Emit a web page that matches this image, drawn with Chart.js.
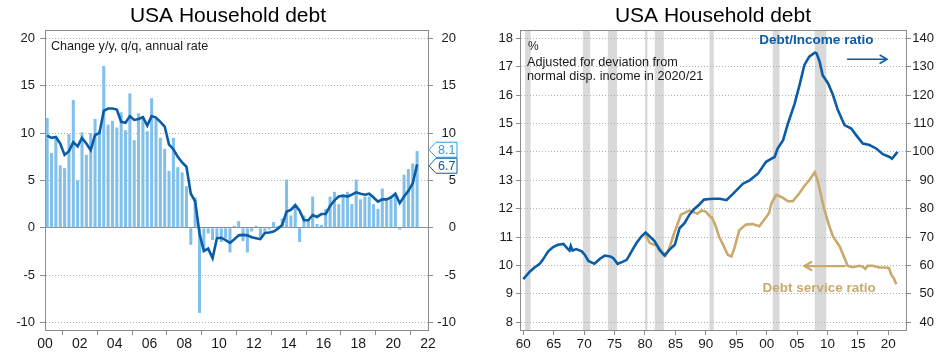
<!DOCTYPE html>
<html><head><meta charset="utf-8">
<script src="https://cdn.jsdelivr.net/npm/chart.js@4.4.1/dist/chart.umd.min.js"></script>
<style>
html,body{margin:0;padding:0;background:#fff;}
#wrap{position:relative;width:947px;height:356px;overflow:hidden;}
#c1{position:absolute;left:0;top:0;}
#c2{position:absolute;left:473px;top:0;}
</style></head><body>
<div id="wrap"><canvas id="c1" width="473" height="356"></canvas><canvas id="c2" width="474" height="356"></canvas></div>
<script>
// ---------- LEFT CHART DATA (quarterly, 2000Q1 - 2021Q2) ----------
const qoqValues = [
  11.6, 7.9, 9.6, 6.6,   6.3, 9.9, 13.5, 5.0,   10.1, 7.7, 10.0, 11.5,
  10.3, 17.1, 10.9, 11.3, 10.6, 12.2, 10.3, 14.2, 9.25, 12.1, 11.7, 10.2,
  13.7, 11.5, 9.5, 8.35,  6.0, 9.5, 6.4, 5.85,   4.4, -1.8, 3.2, -9.0,
  -2.3, -0.6, -1.3, -1.0, -1.5, -1.1, -2.6, 0.2,  0.7, -1.4, -2.6, -0.4,
  0.2, -1.0, -0.4, -0.2,  0.6, 0.2, 1.0, 5.1,    1.3, 2.3, -1.5, 1.3,
  0.8, 3.3, 0.4, 0.3,     2.0, 3.3, 3.8, 2.5,    3.4, 3.8, 2.5, 5.1,
  3.0, 3.3, 3.3, 2.5,     2.0, 4.15, 3.0, 3.35,  3.5, -0.2, 5.6, 6.2,
  6.8, 8.1
];
const yoyValues = [
  9.75, 9.5, 9.6, 8.9,   7.7, 8.1, 9.05, 8.6,   9.5, 8.9, 8.2, 9.8,
  10.0, 12.35, 12.6, 12.6, 12.5, 11.2, 11.1, 11.8, 11.4, 11.5, 11.7, 10.8,
  11.8, 11.65, 11.2, 10.7, 8.8, 8.3, 7.5, 6.9,   6.45, 3.6, 2.8, -0.6,
  -2.45, -2.2, -3.2, -1.1, -1.05, -1.3, -1.6, -1.2, -0.8, -0.75, -0.8, -1.0,
  -1.1, -1.2, -0.55, -0.5, -0.4, -0.1, 0.3, 1.7,  1.9, 2.4, 1.8, 0.8,
  0.8, 1.35, 1.15, 1.45,  1.45, 2.3, 2.9, 3.3,   3.4, 3.3, 3.5, 3.75,
  3.6, 3.5, 3.6, 3.2,     2.75, 3.0, 3.0, 3.2,   3.6, 2.6, 3.3, 3.9,
  4.7, 6.7
];
const quarterLabels = [];
for (let yr = 2000; yr <= 2021; yr++) for (let q = 1; q <= 4; q++)
  if (quarterLabels.length < qoqValues.length) quarterLabels.push(yr + 'Q' + q);
const leftXTicks = [2000,2002,2004,2006,2008,2010,2012,2014,2016,2018,2020,2022];
const leftYTicks = [-10,-5,0,5,10,15,20];

// ---------- RIGHT CHART DATA ----------
const dtiYears = [1960.0,1961.1,1961.9,1962.7,1963.2,1964.1,1964.9,1965.7,1966.6,1967.2,1967.6,1967.8,1968.1,1968.7,1969.6,
  1970.1,1970.7,1971.7,1972.6,1973.4,1974.3,1974.8,1975.5,1976.2,1977.0,1977.8,1978.6,1979.4,1980.1,1980.8,
  1981.6,1982.4,1983.2,1984.0,1984.9,1985.7,1986.5,1987.3,1988.1,1988.9,1989.7,1990.6,1991.6,1992.3,1993.4,
  1994.5,1996.1,1997.2,1998.6,1999.9,2000.8,2001.3,2001.8,2002.7,2003.5,2004.6,2005.4,2006.2,2007.0,2007.9,
  2008.2,2008.7,2009.2,2010.1,2010.9,2011.7,2012.8,2013.9,2014.7,2015.8,2016.9,2018.0,2019.1,2020.2,2020.6,2021.5];
const dtiValues = [55.2,57.9,59.4,60.6,62.0,65.0,66.5,67.3,67.6,66.1,65.3,66.9,65.3,65.8,65.0,
  63.8,61.6,60.6,62.4,63.5,63.2,62.6,60.6,61.2,62.0,65.0,67.9,70.2,71.6,70.2,
  68.5,65.5,63.5,65.5,67.3,73.2,74.9,77.9,79.9,81.4,83.2,83.4,83.5,83.5,83.0,
  85.3,88.8,90.0,92.4,96.5,97.6,98.2,101.2,104.1,110.0,117.0,123.5,130.6,133.5,134.9,
  134.7,131.8,127.0,124.1,120.0,114.7,109.4,108.2,105.9,102.9,102.4,101.2,99.2,98.2,97.6,100.0];
const dsrYears = [1980.1,1980.8,1981.3,1982.1,1982.8,1983.4,1984.0,1984.7,1985.4,1985.9,1986.7,1987.3,1988.1,1988.6,1989.3,
  1990.0,1990.8,1991.0,1991.6,1992.2,1992.8,1993.6,1994.2,1994.7,1995.5,1996.6,1997.7,1998.8,1999.6,2000.4,
  2000.8,2001.6,2002.7,2003.5,2004.3,2005.4,2006.2,2007.0,2007.9,2008.3,2008.7,2009.1,2009.5,2010.3,2010.9,
  2012.0,2012.8,2013.3,2014.1,2015.2,2015.8,2016.2,2016.6,2017.4,2018.5,2019.3,2020.1,2020.5,2020.9,2021.3];
const dsrValues = [11.08,10.79,10.75,10.69,10.49,10.35,10.61,11.08,11.49,11.79,11.87,11.94,11.87,11.82,11.94,
  11.9,11.7,11.7,11.4,11.0,10.75,10.38,10.32,10.61,11.24,11.44,11.46,11.38,11.61,11.85,
  12.2,12.49,12.38,12.26,12.26,12.55,12.8,13.0,13.28,13.05,12.7,12.3,11.96,11.38,11.02,
  10.67,10.26,9.99,9.94,9.99,9.96,9.88,9.99,9.99,9.93,9.93,9.91,9.67,9.55,9.34];
const recessionStart = [1960.3,1969.8,1973.9,1980.0,1981.6,1990.6,2001.0,2007.9];
const recessionEnd   = [1961.2,1971.0,1975.4,1980.4,1983.1,1991.3,2002.1,2009.8];
const rightXTicks = [1960,1965,1970,1975,1980,1985,1990,1995,2000,2005,2010,2015,2020];
const rightYTicks = [8,9,10,11,12,13,14,15,16,17,18];
const rightY1Ticks = [40,50,60,70,80,90,100,110,120,130,140];

// ---------- STYLE ----------
const FONT = "'Liberation Sans', Arial, sans-serif";
Chart.defaults.font.family = FONT;
Chart.defaults.color = '#1a1a1a';
const AXIS = '#8c8c8c';
const GRID = '#b0b0b0';
const BAR_BLUE = '#80c0ea';
const LINE_BLUE = '#0b5ca7';
const CALLOUT_LIGHT = '#2f9be0';
const TAN = '#c9aa6c';
const SHADE = '#d9d9d9';

function qx(label){ return +label.slice(0,4) + (+label.slice(5) - 0.5) / 4; }
function setTicks(list){ return s => { s.ticks = list.map(v => ({value: v})); }; }
function twoDigit(v){ return String(((v % 100) + 100) % 100).padStart(2, '0'); }

function drawArrow(ctx, x1, y, x2, color, w){
  const dir = Math.sign(x2 - x1);
  ctx.save(); ctx.strokeStyle = color; ctx.lineWidth = w; ctx.lineCap = 'round';
  ctx.beginPath(); ctx.moveTo(x1, y); ctx.lineTo(x2, y);
  ctx.moveTo(x2 - dir*7, y - 4); ctx.lineTo(x2, y); ctx.lineTo(x2 - dir*7, y + 4);
  ctx.stroke(); ctx.restore();
}
function drawFrameTop(chart){
  const {ctx, chartArea: a} = chart;
  ctx.save(); ctx.strokeStyle = AXIS; ctx.lineWidth = 1;
  ctx.beginPath(); ctx.moveTo(a.left, Math.round(a.top) + 0.5); ctx.lineTo(a.right, Math.round(a.top) + 0.5); ctx.stroke();
  ctx.restore();
}

// ---------- LEFT CHART ----------
const leftExtras = {
  id: 'leftExtras',
  afterDraw(chart){
    const {ctx, chartArea: a, scales: {y}} = chart;
    drawFrameTop(chart);
    ctx.save();
    ctx.fillStyle = '#1a1a1a'; ctx.font = '12.6px ' + FONT; ctx.textBaseline = 'alphabetic'; ctx.textAlign = 'left';
    ctx.fillText('Change y/y, q/q, annual rate', a.left + 6, a.top + 19.5);
    const items = [
      {v: qoqValues[qoqValues.length-1], c: CALLOUT_LIGHT},
      {v: yoyValues[yoyValues.length-1], c: LINE_BLUE}
    ].map(o => ({...o, py: y.getPixelForValue(o.v)})).sort((p, q) => p.py - q.py);
    const h = 16;
    if (items[1].py - items[0].py < h) {
      const d = (h - (items[1].py - items[0].py)) / 2;
      items[0].py -= d; items[1].py += d;
    }
    const x0 = a.right + 1, xn = x0 + 7, xr = x0 + 28;
    items.forEach(o => {
      const t = o.py - h/2 + 0.5, b = o.py + h/2 - 0.5;
      ctx.beginPath(); ctx.moveTo(x0, o.py); ctx.lineTo(xn, t); ctx.lineTo(xr, t); ctx.lineTo(xr, b); ctx.lineTo(xn, b); ctx.closePath();
      ctx.fillStyle = '#fff'; ctx.fill(); ctx.strokeStyle = o.c; ctx.lineWidth = 1; ctx.stroke();
      ctx.fillStyle = o.c; ctx.font = '12.5px ' + FONT; ctx.textBaseline = 'middle'; ctx.textAlign = 'left';
      ctx.fillText(o.v.toFixed(1), xn + 2, o.py + 0.5);
    });
    ctx.restore();
  }
};

new Chart(document.getElementById('c1'), {
  data: {
    datasets: [
      { type: 'line', label: 'y/y', data: quarterLabels.map((l, i) => ({x: qx(l), y: yoyValues[i]})),
        borderColor: LINE_BLUE, borderWidth: 2.6, pointRadius: 0, tension: 0, order: 0, yAxisID: 'y' },
      { type: 'bar', label: 'q/q', data: quarterLabels.map((l, i) => ({x: qx(l), y: qoqValues[i]})),
        backgroundColor: BAR_BLUE, categoryPercentage: 1, barPercentage: 0.7, order: 1, yAxisID: 'y' }
    ]
  },
  options: {
    responsive: false, animation: false,
    layout: {padding: {left: 0, right: 17, top: 0, bottom: 0}},
    plugins: {
      legend: {display: false}, tooltip: {enabled: false},
      title: {display: true, text: 'USA Household debt', color: '#000', font: {size: 21, weight: 'normal'}, padding: {top: 4, bottom: 0.8}}
    },
    scales: {
      x: { type: 'linear', min: 2000, max: 2022, offset: false,
        afterBuildTicks: setTicks(leftXTicks), afterFit: s => { s.height = 26; },
        ticks: {callback: twoDigit, font: {size: 14}, padding: 1, maxRotation: 0, autoSkip: false},
        grid: {drawOnChartArea: false, tickLength: 5, tickColor: AXIS}, border: {color: AXIS} },
      y: { position: 'left', min: -10.8, max: 20.9,
        afterBuildTicks: setTicks(leftYTicks), afterFit: s => { s.width = 45; },
        ticks: {font: {size: 13}, padding: 5},
        grid: {color: c => (c.tick && c.tick.value === 0) ? '#8c8c8c' : GRID, tickColor: AXIS, tickLength: 5, tickBorderDash: []},
        border: {color: AXIS, dash: c => (c.tick && c.tick.value === 0) ? [] : [1, 2]} },
      y2: { position: 'right', min: -10.8, max: 20.9,
        afterBuildTicks: setTicks(leftYTicks), afterFit: s => { s.width = 28; },
        ticks: {font: {size: 13}, crossAlign: 'far'},
        grid: {drawOnChartArea: false, tickColor: AXIS, tickLength: 5}, border: {color: AXIS} }
    }
  },
  plugins: [leftExtras]
});

// ---------- RIGHT CHART ----------
const yMinR = 7.73, yMaxR = 18.29;
const rightExtras = {
  id: 'rightExtras',
  beforeDraw(chart){
    const {ctx, chartArea: a, scales: {x}} = chart;
    ctx.save(); ctx.fillStyle = SHADE;
    recessionStart.forEach((s, i) => {
      const x1 = x.getPixelForValue(s), x2 = x.getPixelForValue(recessionEnd[i]);
      ctx.fillRect(x1, a.top, x2 - x1, a.bottom - a.top);
    });
    ctx.restore();
  },
  afterDraw(chart){
    const {ctx, chartArea: a, scales: {x, y}} = chart;
    drawFrameTop(chart);
    ctx.save();
    ctx.fillStyle = '#1a1a1a'; ctx.textAlign = 'left'; ctx.textBaseline = 'alphabetic';
    ctx.font = '12px ' + FONT;
    ctx.fillText('%', a.left + 8, a.top + 20);
    ctx.font = '12.7px ' + FONT;
    ctx.fillText('Adjusted for deviation from', a.left + 7, a.top + 36);
    ctx.fillText('normal disp. income in 2020/21', a.left + 7, a.top + 50);
    ctx.font = 'bold 13.5px ' + FONT;
    ctx.fillStyle = LINE_BLUE;
    ctx.fillText('Debt/Income ratio', x.getPixelForValue(1998.8), y.getPixelForValue(17.8));
    ctx.fillStyle = TAN;
    ctx.fillText('Debt service ratio', x.getPixelForValue(1999.3), y.getPixelForValue(9.07));
    ctx.restore();
    drawArrow(ctx, x.getPixelForValue(2013.3), y.getPixelForValue(17.26), x.getPixelForValue(2019.8), LINE_BLUE, 1.5);
    drawArrow(ctx, x.getPixelForValue(2012.8), y.getPixelForValue(9.98), x.getPixelForValue(2006.2), TAN, 2.2);
  }
};

new Chart(document.getElementById('c2'), {
  type: 'line',
  data: {
    datasets: [
      { label: 'Debt/Income ratio', data: dtiYears.map((yr, i) => ({x: yr, y: dtiValues[i]})), yAxisID: 'y1',
        borderColor: LINE_BLUE, borderWidth: 2.6, pointRadius: 0, tension: 0 },
      { label: 'Debt service ratio', data: dsrYears.map((yr, i) => ({x: yr, y: dsrValues[i]})), yAxisID: 'y',
        borderColor: TAN, borderWidth: 2.6, pointRadius: 0, tension: 0 }
    ]
  },
  options: {
    responsive: false, animation: false,
    layout: {padding: {left: 0, right: 13, top: 0, bottom: 0}},
    plugins: {
      legend: {display: false}, tooltip: {enabled: false},
      title: {display: true, fullSize: false, text: 'USA Household debt', color: '#000', font: {size: 21, weight: 'normal'}, padding: {top: 4, bottom: 0.8}}
    },
    scales: {
      x: { type: 'linear', min: 1959.46, max: 2022.9, offset: false,
        afterBuildTicks: setTicks(rightXTicks), afterFit: s => { s.height = 26; },
        ticks: {callback: twoDigit, font: {size: 13.5}, padding: 1, maxRotation: 0, autoSkip: false},
        grid: {drawOnChartArea: false, tickLength: 5, tickColor: AXIS}, border: {color: AXIS} },
      y: { position: 'left', min: yMinR, max: yMaxR,
        afterBuildTicks: setTicks(rightYTicks), afterFit: s => { s.width = 47; },
        ticks: {font: {size: 13}, padding: 3},
        grid: {color: GRID, tickColor: AXIS, tickLength: 4, tickBorderDash: []},
        border: {color: AXIS, dash: [1, 2]} },
      y1: { position: 'right', min: 40 + (yMinR - 8) * 10, max: 40 + (yMaxR - 8) * 10,
        afterBuildTicks: setTicks(rightY1Ticks), afterFit: s => { s.width = 28; },
        ticks: {font: {size: 13}, crossAlign: 'far'},
        grid: {drawOnChartArea: false, tickColor: AXIS, tickLength: 5}, border: {color: AXIS} }
    }
  },
  plugins: [rightExtras]
});
</script>
</body></html>
